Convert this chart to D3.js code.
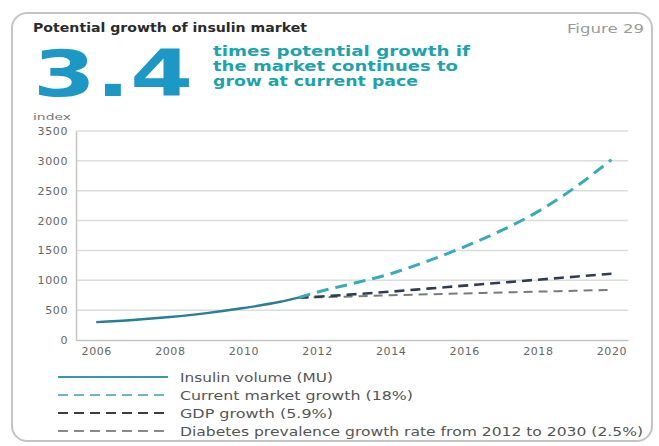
<!DOCTYPE html>
<html>
<head>
<meta charset="utf-8">
<script src="https://cdn.jsdelivr.net/npm/d3@7"></script>
<style>
  body { margin: 0; background: #fff; }
  text { font-family: "DejaVu Sans", Verdana, sans-serif; }
</style>
</head>
<body>
<svg id="chart" width="659" height="446"></svg>
<script>
// data
let insulinYears = [2006, 2007, 2008, 2009, 2010, 2011, 2011.5]
let insulinValues = [300, 335, 385, 450, 535, 640, 710]

let projYears = [2011.5, 2012, 2013, 2014, 2015, 2016, 2017, 2018, 2019, 2020]
let marketValues = [710, 800, 950, 1110, 1320, 1560, 1830, 2150, 2550, 3020]
let gdpValues = [710, 725, 765, 810, 860, 910, 960, 1010, 1060, 1110]
let diabetesValues = [710, 715, 730, 750, 765, 780, 795, 810, 825, 840]

let xTickValues = [2006, 2008, 2010, 2012, 2014, 2016, 2018, 2020]
let yTickValues = [0, 500, 1000, 1500, 2000, 2500, 3000, 3500]

let legendLabels = [
    "Insulin volume (MU)",
    "Current market growth (18%)",
    "GDP growth (5.9%)",
    "Diabetes prevalence growth rate from 2012 to 2030 (2.5%)"
]

let svg = d3.select("#chart")

// frame
svg.append("rect")
    .attr("x", 12).attr("y", 13)
    .attr("width", 640).attr("height", 428)
    .attr("rx", 15)
    .style("fill", "#fff")
    .style("stroke", "#c4c4c4")
    .style("stroke-width", 2)

// headings
svg.append("text")
    .attr("x", 33).attr("y", 32)
    .attr("textLength", 274).attr("lengthAdjust", "spacingAndGlyphs")
    .style("font-size", "12.5px").style("font-weight", "bold")
    .style("fill", "#2b2b2b")
    .text("Potential growth of insulin market")

svg.append("text")
    .attr("x", 567).attr("y", 33)
    .attr("textLength", 77).attr("lengthAdjust", "spacingAndGlyphs")
    .style("font-size", "12.5px")
    .style("fill", "#9a9a9a")
    .text("Figure 29")

svg.append("text")
    .attr("x", 33).attr("y", 96)
    .attr("textLength", 160).attr("lengthAdjust", "spacingAndGlyphs")
    .style("font-size", "64px").style("font-weight", "bold")
    .style("fill", "#1c98c6")
    .text("3.4")

let subLines = ["times potential growth if", "the market continues to", "grow at current pace"]
let subWidths = [257, 245, 205]
svg.selectAll(".sub")
    .data(subLines)
    .join("text")
    .attr("class", "sub")
    .attr("x", 213)
    .attr("y", (d, i) => 56 + i * 15)
    .attr("textLength", (d, i) => subWidths[i]).attr("lengthAdjust", "spacingAndGlyphs")
    .style("font-size", "14px").style("font-weight", "bold")
    .style("fill", "#1ba4ae")
    .text(d => d)

svg.append("text")
    .attr("x", 33).attr("y", 120)
    .attr("textLength", 38).attr("lengthAdjust", "spacingAndGlyphs")
    .style("font-size", "8.5px")
    .style("fill", "#777")
    .text("index")

// scales
let x = d3.scaleLinear().domain([2005.45, 2020.45]).range([76, 628])
let y = d3.scaleLinear().domain([0, 3500]).range([340, 131])

// grid
svg.append("g")
    .selectAll("line")
    .data(yTickValues.filter(d => d > 0))
    .join("line")
    .attr("x1", 76).attr("x2", 628)
    .attr("y1", d => y(d)).attr("y2", d => y(d))
    .style("stroke", "#dcdcdc")
    .style("stroke-width", 1.5)

// axes
let yAxis = d3.axisLeft(y).tickValues(yTickValues).tickSize(0).tickPadding(8).tickFormat(d3.format("d"))
let gy = svg.append("g").attr("transform", "translate(76,0)").call(yAxis)
let xAxis = d3.axisBottom(x).tickValues(xTickValues).tickSize(0).tickPadding(7).tickFormat(d3.format("d"))
let gx = svg.append("g").attr("transform", "translate(0,340)").call(xAxis)

gy.select(".domain").style("stroke", "#c4c4c4").style("stroke-width", 1.5)
gx.select(".domain").style("stroke", "#c4c4c4").style("stroke-width", 1.5)
svg.selectAll(".tick text")
    .style("font-family", "'DejaVu Sans', Verdana, sans-serif")
    .style("font-size", "11px")
    .style("letter-spacing", "0.6px")
    .style("fill", "#666")

// lines
let line = d3.line().curve(d3.curveMonotoneX)

let series = [
    { yrs: insulinYears, vals: insulinValues, color: "#267f96", width: 2.4, dash: null },
    { yrs: projYears, vals: diabetesValues, color: "#7a7a7a", width: 2, dash: "9,6" },
    { yrs: projYears, vals: gdpValues, color: "#2f3d52", width: 2.6, dash: "10,6" },
    { yrs: projYears, vals: marketValues, color: "#33adbc", width: 3, dash: "12,7" }
]

series.forEach(function(s) {
    let pts = s.yrs.map((d, i) => [x(d), y(s.vals[i])])
    svg.append("path")
        .attr("d", line(pts))
        .style("fill", "none")
        .style("stroke", s.color)
        .style("stroke-width", s.width)
        .style("stroke-dasharray", s.dash)
})

// legend
let legendStyles = [
    { color: "#3a97a8", width: 1.8, dash: null },
    { color: "#6cb6c8", width: 2.2, dash: "10,6" },
    { color: "#3d3d44", width: 2.2, dash: "10,6" },
    { color: "#8a8a8a", width: 1.8, dash: "10,6" }
]
let legendY = [377, 395, 413, 431]
let legendWidths = [153, 233, 153, 463]

legendLabels.forEach(function(lab, i) {
    let st = legendStyles[i]
    svg.append("line")
        .attr("x1", 58).attr("x2", 168)
        .attr("y1", legendY[i]).attr("y2", legendY[i])
        .style("stroke", st.color)
        .style("stroke-width", st.width)
        .style("stroke-dasharray", st.dash)
    svg.append("text")
        .attr("x", 180).attr("y", legendY[i] + 5)
        .attr("textLength", legendWidths[i]).attr("lengthAdjust", "spacingAndGlyphs")
        .style("font-size", "13px")
        .style("fill", "#555")
        .text(lab)
})
</script>
</body>
</html>
